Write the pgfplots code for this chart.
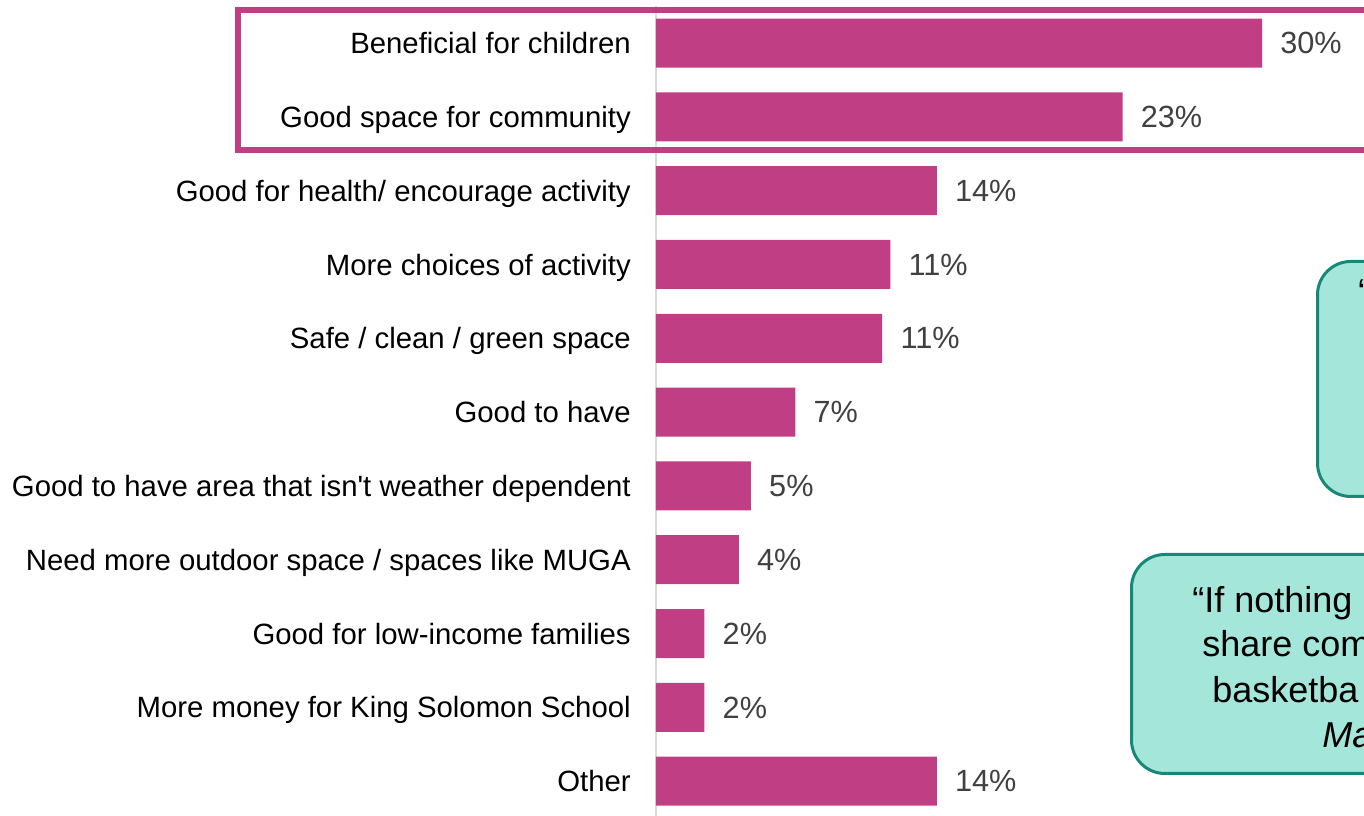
\documentclass[border=0pt]{standalone}
\usepackage{pgfplots}
\pgfplotsset{compat=1.18}
\usepackage{fontspec}
\setmainfont{Liberation Sans}
\definecolor{barcol}{RGB}{192,63,132}
\definecolor{axisgrey}{RGB}{217,217,217}
\definecolor{valgrey}{RGB}{64,64,64}
\definecolor{boxfill}{RGB}{164,231,218}
\definecolor{boxline}{RGB}{22,136,120}
\begin{document}
\begin{tikzpicture}[x=0.75pt,y=0.75pt]
  \useasboundingbox (0,0) rectangle (1364,816);
  \clip (0,0) rectangle (1364,816);
  \begin{axis}[
    at={(492pt,-1.5pt)}, anchor=south west,
    scale only axis,
    width=530.25pt, height=608.85pt,
    xbar, bar width=36.75pt,
    xmin=0, xmax=35,
    ymin=-0.5, ymax=10.5,
    y dir=reverse,
    axis x line=none, xtick=\empty,
    axis y line*=left,
    y axis line style={draw=axisgrey, line width=1.5pt},
    ytick={0,...,10},
    yticklabels={
      Beneficial for children,
      Good space for community,
      Good for health/ encourage activity,
      More choices of activity,
      Safe / clean / green space,
      Good to have,
      Good to have area that isn\textquotesingle t weather dependent,
      Need more outdoor space / spaces like MUGA,
      Good for low-income families,
      More money for King Solomon School,
      Other},
    major tick length=0pt,
    ytick style={draw=none},
    yticklabel style={font=\fontsize{22}{26}\selectfont, inner sep=0pt,
      anchor=east, text depth=0pt},
    yticklabel shift=18.75pt,
    point meta=explicit symbolic,
    nodes near coords,
    every node near coord/.append style={anchor=west, inner sep=0pt, xshift=13.5pt,
      font=\fontsize{23}{27}\selectfont, text=valgrey, text depth=0pt},
    clip=false,
  ]
    \addplot[fill=barcol, draw=none] coordinates {
      (30.0,0) [30\%]
      (23.1,1) [23\%]
      (13.9,2) [14\%]
      (11.6,3) [11\%]
      (11.2,4) [11\%]
      (6.9,5) [7\%]
      (4.7,6) [5\%]
      (4.1,7) [4\%]
      (2.4,8) [2\%]
      (2.4,9) [2\%]
      (13.9,10) [14\%]
    };
  \end{axis}
  % highlight round the top two answers
  \draw[barcol, line width=4.5pt] (238,806) rectangle (1500,666);
  % quote boxes, cut off at the right edge
  \draw[draw=boxline, fill=boxfill, line width=2.25pt, rounded corners=25pt]
    (1317.5,554.5) rectangle (1540,319.5);
  \draw[draw=boxline, fill=boxfill, line width=2.25pt, rounded corners=25pt]
    (1131.5,261.5) rectangle (1540,42.5);
  \begin{scope}[every node/.style={anchor=base west, inner sep=0pt,
      font=\fontsize{27}{32}\selectfont}]
    \node at (1358,511) {“};
    \node at (1192,203) {“If nothing};
    \node at (1202,159) {share com};
    \node at (1212,113) {basketba};
    \node at (1322,68) {\itshape Ma};
  \end{scope}
\end{tikzpicture}
\end{document}
